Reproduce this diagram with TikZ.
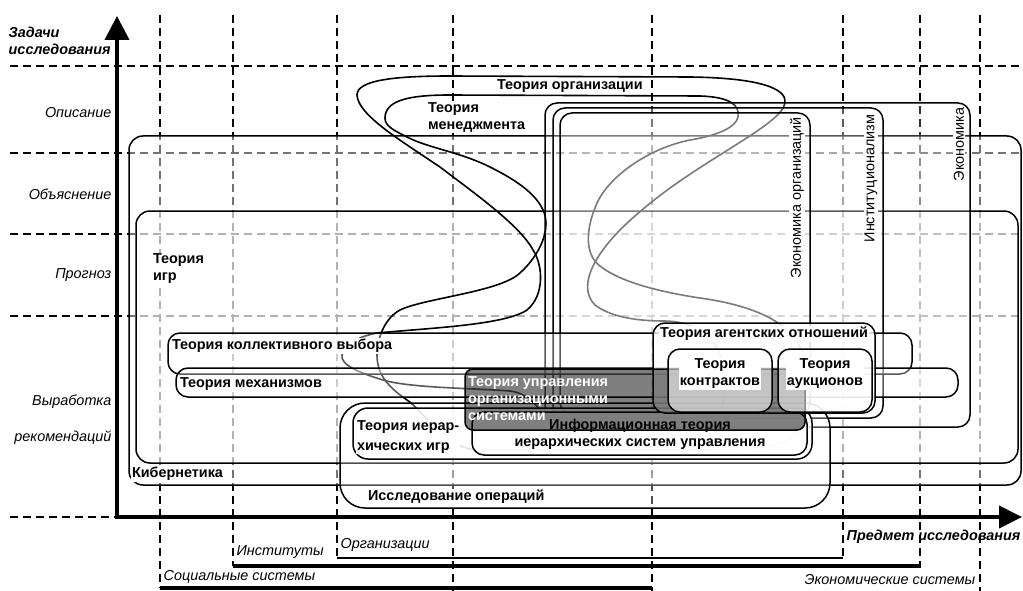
\documentclass[tikz,border=0pt]{standalone}
\usepackage{fontspec}
\setmainfont{Liberation Sans}
\usetikzlibrary{arrows.meta}
\begin{document}
\begin{tikzpicture}[x=1pt,y=-1pt,
  gridline/.style={line width=1.7pt, dash pattern=on 8pt off 5pt},
  area/.style={draw, line width=1.5pt, rounded corners=#1, fill=white},
  blobline/.style={line width=1.6pt},
  lbl/.style={font=\fontsize{14.4pt}{17pt}\selectfont\bfseries, inner sep=0.8pt, align=left, fill=white},
  vlbl/.style={font=\fontsize{14.4pt}{17pt}\selectfont, inner sep=0.8pt, fill=white, rotate=90, anchor=east},
  axlbl/.style={font=\fontsize{14.4pt}{17pt}\selectfont\itshape, inner sep=0.5pt, align=left},
  axbold/.style={font=\fontsize{14.4pt}{17pt}\selectfont\bfseries\itshape, inner sep=0.5pt, align=left},
]
\useasboundingbox (0,0) rectangle (1023,591);

% dashed grid of research tasks and research subjects
\foreach \yy in {66,153,234,316,517}
  \draw[gridline] (10,\yy) -- (1023,\yy);
\foreach \xx/\yb in {160/588,233/566,337/558,453/591,652/591,843/558,920/566,980/591}
  \draw[gridline] (\xx,15) -- (\xx,\yb);

% ranges of the research subjects
\draw[line width=2.5pt] (337,558) -- (843,558);
\draw[line width=3.5pt] (233,566) -- (921,566);
\draw[line width=3.5pt] (160,588) -- (652,588);

% large areas
\draw[area=14pt, fill opacity=0.45] (129,136) rectangle (1021,485);
\draw[area=14pt, fill opacity=0.45] (136,211) rectangle (1018,463);

% organization theory
\draw[blobline] (357,95)
  .. controls (357,80) and (395,76) .. (450,76)
  -- (690,77)
  .. controls (765,78) and (787,90) .. (785,103)
  .. controls (782,125) and (700,160) .. (642,210)
  .. controls (597,247) and (575,285) .. (595,305)
  .. controls (612,318) and (640,321) .. (665,321)
  .. controls (705,322) and (725,345) .. (725,385)
  .. controls (725,430) and (690,445) .. (640,445)
  -- (590,445)
  .. controls (550,445) and (545,395) .. (510,391)
  .. controls (470,388) and (410,388) .. (383,380)
  .. controls (360,373) and (340,365) .. (342,355)
  .. controls (345,342) and (362,336) .. (377,333)
  .. controls (430,328) and (505,325) .. (527,310)
  .. controls (545,295) and (543,265) .. (533,250)
  .. controls (520,225) and (470,190) .. (440,167)
  .. controls (400,140) and (358,115) .. (357,95) -- cycle;

% management theory
\draw[blobline] (385,118)
  .. controls (385,100) and (410,95) .. (450,95)
  -- (700,96)
  .. controls (730,97) and (740,105) .. (738,117)
  .. controls (736,128) and (715,136) .. (690,140)
  .. controls (650,148) and (610,175) .. (597,203)
  .. controls (585,230) and (585,255) .. (600,266)
  .. controls (620,282) and (660,292) .. (700,298)
  .. controls (750,305) and (787,320) .. (800,347)
  .. controls (812,372) and (815,405) .. (800,430)
  .. controls (785,450) and (740,450) .. (700,450)
  -- (480,450)
  .. controls (445,450) and (425,412) .. (407,400)
  .. controls (385,385) and (377,372) .. (377,355)
  .. controls (377,338) and (385,318) .. (400,310)
  .. controls (425,298) and (500,292) .. (520,273)
  .. controls (540,255) and (552,228) .. (543,210)
  .. controls (535,192) and (512,178) .. (490,167)
  .. controls (460,152) and (428,148) .. (407,137)
  .. controls (393,130) and (385,126) .. (385,118) -- cycle;

% economics
\draw[area=12pt, fill opacity=0.2] (545,103) rectangle (970,427);
\draw[area=12pt, fill opacity=0.2] (553,108) rectangle (883,418);
\draw[area=12pt, fill opacity=0.2] (560,113) rectangle (810,414);

% mechanism design and collective choice
\draw[area=12pt, fill opacity=0.35] (168,333) rectangle (912,374);
\draw[area=12pt, fill opacity=0.35] (176,368) rectangle (958,397);

% operations research and hierarchical systems
\draw[area=25pt, fill opacity=0.3] (340,403) rectangle (830,508);
\draw[area=15pt, fill opacity=0.85] (353,408) rectangle (812,459);
\draw[area=12pt, fill opacity=0.85] (472,412) rectangle (807,455);

% agency theory
\draw[area=12pt, fill opacity=0.8] (653,323) rectangle (875,413);

% control of organizational systems
\draw[line width=1.5pt, rounded corners=8pt, fill=black, fill opacity=0.5] (465,369) rectangle (805,430);

\draw[area=12pt, fill opacity=0.55] (668,349) rectangle (772,412);
\draw[area=12pt, fill opacity=0.55] (778,349) rectangle (872,412);

% axes
\draw[line width=4pt, -{Triangle[length=24pt,width=24pt]}] (117,519) -- (117,16);
\draw[line width=4pt, -{Triangle[length=23pt,width=22pt]}] (115,517) -- (1022,517);

% area labels
\node[lbl, anchor=west] (torg) at (496,86) {Теория организации};
\node[lbl, anchor=west] (tmen) at (427,117) {Теория\\менеджмента};
\node[lbl, anchor=west] (igr) at (152,269) {Теория\\игр};
\node[lbl, anchor=west] (kib) at (131,474) {Кибернетика};
\node[lbl, anchor=west] (kol) at (171,346) {Теория коллективного выбора};
\node[lbl, anchor=west] (mex) at (179,384) {Теория механизмов};
\node[lbl] (agent) at (764,334) {Теория агентских отношений};
\node[lbl, align=center] (kontr) at (720,374) {Теория\\контрактов};
\node[lbl, align=center] (auk) at (825,374) {Теория\\аукционов};
\node[lbl, anchor=west, fill=none, text=white] (tuos) at (467,399) {Теория управления\\организационными\\системами};
\node[lbl, align=center, fill=none] (info) at (640,434) {Информационная теория\\иерархических систем управления};
\node[lbl, anchor=west] (ierar) at (356,437) {Теория иерар-\\[3pt]хических игр};
\node[lbl, anchor=west] (iso) at (367,497) {Исследование операций};
\node[vlbl] (ekorg) at (797,116) {Экономика организаций};
\node[vlbl] (instz) at (871,114) {Институционализм};
\node[vlbl] (ekon) at (959,107) {Экономика};

% axis labels
\node[axbold, anchor=west] (zad) at (8,40.5) {Задачи\\исследования};
\node[axlbl, anchor=east] (op) at (112,113) {Описание};
\node[axlbl, anchor=east] (ob) at (112,194) {Объяснение};
\node[axlbl, anchor=east] (pr) at (112,275) {Прогноз};
\node[axlbl, anchor=east] (vy) at (112,402) {Выработка};
\node[axlbl, anchor=east] (rek) at (112,438) {рекомендаций};
\node[axbold, anchor=east] (pred) at (1021,537) {Предмет исследования};
\node[axlbl, anchor=west] (inst) at (236,552) {Институты};
\node[axlbl, anchor=west] (orgz) at (340,545) {Организации};
\node[axlbl, anchor=west] (soc) at (163,577) {Социальные системы};
\node[axlbl, anchor=east] (ecs) at (976,580) {Экономические системы};
\end{tikzpicture}
\end{document}
